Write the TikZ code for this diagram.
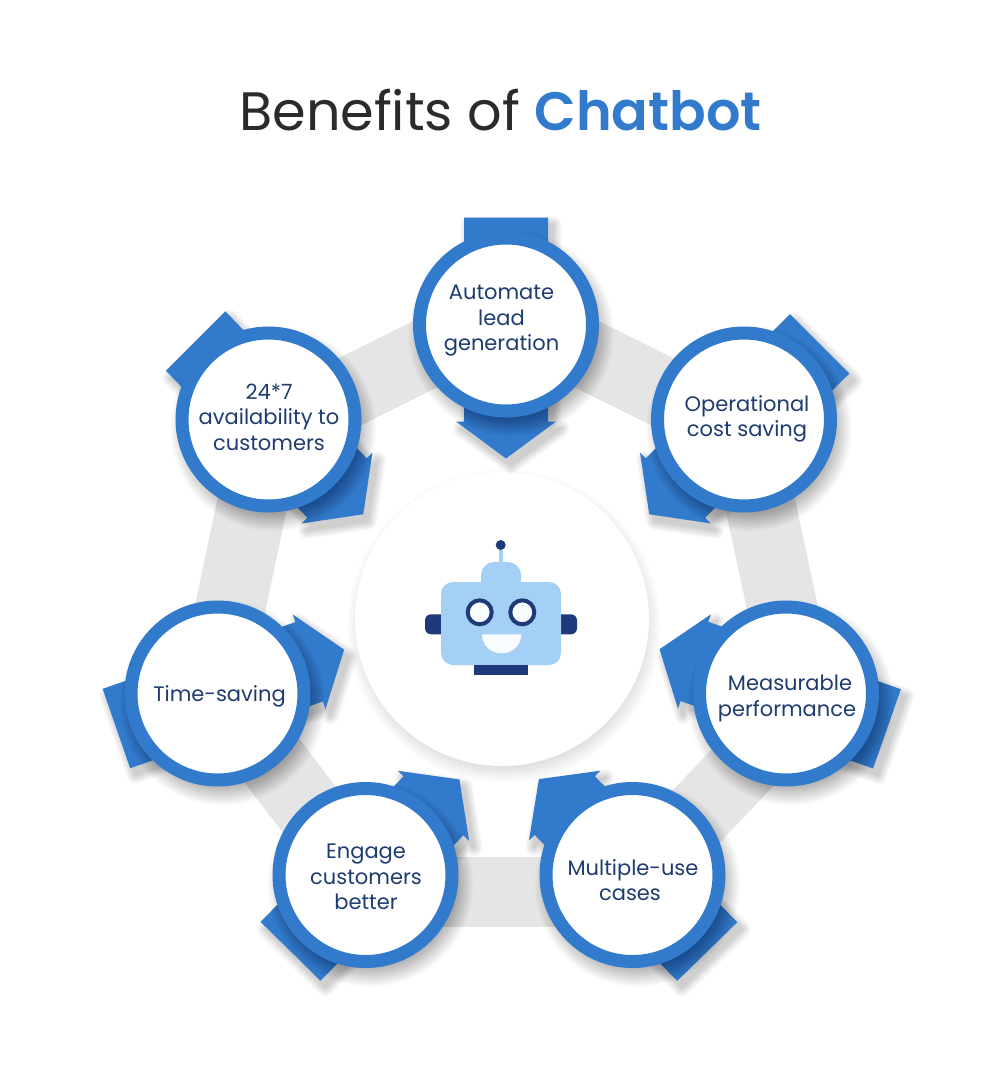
\documentclass[tikz,border=0pt]{standalone}
\usepackage{fontspec}
\setmainfont{Poppins}[BoldFont={Poppins SemiBold}]
\definecolor{bluemain}{RGB}{50,122,204}
\definecolor{navy}{RGB}{31,58,122}
\definecolor{textnavy}{RGB}{30,60,112}
\definecolor{lightb}{RGB}{165,208,245}
\definecolor{eyew}{RGB}{248,252,255}
\definecolor{bandgray}{RGB}{229,229,229}
\definecolor{titlec}{RGB}{43,43,43}
\tikzset{
  band/.style={draw=bandgray,line width=70pt,line cap=butt},
  benefit/.style={circle,draw=bluemain,line width=13pt,fill=white,minimum size=173pt,inner sep=0pt,outer sep=0pt},
  benefittext/.style={align=center,text=textnavy,font=\fontsize{21}{25.5}\selectfont,inner sep=0pt},
  robotpart/.style={fill=lightb},
  robotdark/.style={fill=navy},
}
\newcommand{\softdisc}[4]{% x,y,r,opacity
  \foreach \k in {0,...,29}{
    \fill[black,opacity=#4] (#1+5,#2-9) circle ({#3+10-0.8*\k});
  }
}
\newcommand{\benefitarrow}[4]{% x,y,angle,tail side offset
  \begin{scope}[shift={(#1,#2)},rotate=#3]
    \foreach \k in {0,...,11}{
      \begin{scope}[transparency group,opacity=.015]
        \path[rotate=-#3,shift={(5,-7)},rotate=#3,draw=black,fill=black,line join=round,line width={1+1.5*\k}]
          (-107,{-42+#4})--(97,-42)--(97,-50)--(134,0)--(97,50)--(97,42)--(-107,{42+#4})--cycle;
      \end{scope}
    }
    \fill[bluemain] (-107,{-42+#4})--(97,-42)--(97,-50)--(134,0)--(97,50)--(97,42)--(-107,{42+#4})--cycle;
  \end{scope}
  \softdisc{#1}{#2}{93}{.012}
}
\begin{document}
\begin{tikzpicture}[x=1pt,y=1pt]
\useasboundingbox[fill=white] (0,0) rectangle (1004,-1065);
% title
\node[inner sep=0pt,text=titlec,font=\fontsize{54.1}{60}\selectfont] (title) at (500.5,-110) {Benefits of \textcolor{bluemain}{\textbf{Chatbot}}};
% ring coordinates
\coordinate (rt) at (506,-314);
\coordinate (rr) at (745,-433);
\coordinate (rl) at (267,-433);
\coordinate (mr) at (800,-690);
\coordinate (ml) at (213,-690);
\coordinate (mr2) at (786,-722);
\coordinate (ml2) at (217,-689);
\coordinate (br) at (633,-883);
\coordinate (bl) at (367,-885);
\coordinate (bbr) at (632,-892);
\coordinate (bbl) at (366,-892);
\draw[band] (rt)--(rr);
\draw[band] (rt)--(rl);
\draw[band] (rr)--(mr);
\draw[band] (rl)--(ml);
\draw[band] (mr2)--(br);
\draw[band] (ml2)--(bl);
\draw[band] (bbl)--(bbr);
% centre disc
\foreach \k in {0,...,19}{
  \fill[black,opacity=.009] (504,-626) circle ({147+10-1.1*\k});
}
\node[circle,fill=white,minimum size=294pt,inner sep=0pt] (hub) at (502,-619) {};
% robot
\draw[lightb,line width=4pt] (501,-562)--(501,-550);
\fill[robotdark] (500.7,-545) circle (5);
\fill[robotpart,rounded corners=13pt] (481,-600)--(481,-562)--(521,-562)--(521,-600)--cycle;
\fill[robotdark,rounded corners=6pt] (450,-614.3)--(425,-614.3)--(425,-634.3)--(450,-634.3)--cycle;
\fill[robotdark] (444,-614.3) rectangle (450,-634.3);
\fill[robotdark,rounded corners=6pt] (552,-614.3)--(577,-614.3)--(577,-634.3)--(552,-634.3)--cycle;
\fill[robotdark] (552,-614.3) rectangle (558,-634.3);
\fill[robotpart,rounded corners=12pt] (441,-582) rectangle (561,-665);
\fill[robotdark] (474,-665) rectangle (527.7,-675);
\fill[eyew,draw=navy,line width=4pt] (479.7,-612.3) circle (12);
\fill[eyew,draw=navy,line width=4pt] (522.3,-612.3) circle (12);
\fill[eyew] (482,-634.3) .. controls (482,-645) and (490.5,-653.3) .. (501.7,-653.3) .. controls (512.5,-653.3) and (521.3,-645) .. (521.3,-634.3) -- cycle;
% benefits
\benefitarrow{506}{-324.5}{-90}{0}
\node[benefit] (c1) at (506,-324.5) {};
\node[benefittext] (t1) at (501.5,-321) {Automate\\lead\\generation};
\benefitarrow{744}{-419.5}{225}{0}
\node[benefit] (c2) at (744,-419.5) {};
\node[benefittext] (t2) at (747,-419) {Operational\\cost saving};
\benefitarrow{786}{-693.5}{160.7}{0}
\node[benefit] (c3) at (786,-693.5) {};
\node[benefittext] (t3) at (787,-698.5) {\hspace*{6pt}Measurable\\performance};
\benefitarrow{632.5}{-875}{134.3}{0}
\node[benefit] (c4) at (632.5,-875) {};
\node[benefittext] (t4) at (633,-880) {Multiple-use\\\hspace*{-6pt}cases};
\benefitarrow{365.5}{-875}{45.5}{0}
\node[benefit] (c5) at (365.5,-875) {};
\node[benefittext] (t5) at (366,-877) {Engage\\customers\\better};
\benefitarrow{217.5}{-693.5}{19.1}{0}
\node[benefit] (c6) at (217.5,-693.5) {};
\node[benefittext] (t6) at (219.5,-696) {Time-saving};
\benefitarrow{268.5}{-419.5}{-45}{4}
\node[benefit] (c7) at (268.5,-419.5) {};
\node[benefittext] (t7) at (269,-417) {24*7\\availability to\\customers};
\end{tikzpicture}
\end{document}
